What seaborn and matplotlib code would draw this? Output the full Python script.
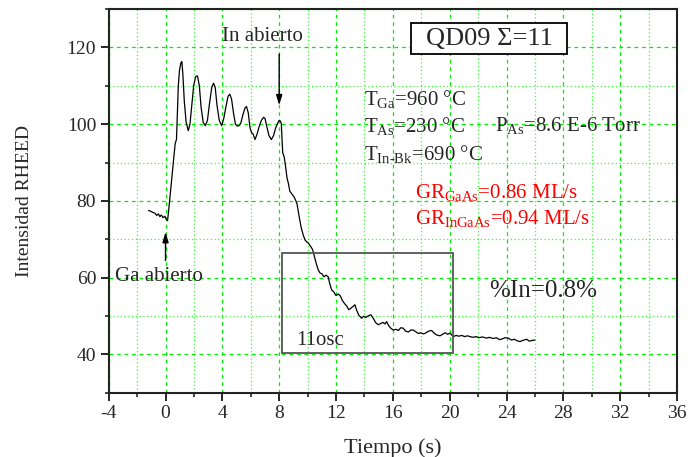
import numpy as np
import pandas as pd
import seaborn as sns
import matplotlib as mpl
import matplotlib.pyplot as plt
from matplotlib.patches import Rectangle
from matplotlib.ticker import MultipleLocator

# RHEED trace
tiempo = [-1.2, -1.05, -0.9, -0.75, -0.62, -0.5, -0.4, -0.3, -0.17, -0.05, 0.05, 0.14,
          0.22, 0.3, 0.4, 0.5, 0.6, 0.68, 0.77, 0.84, 0.9, 0.98, 1.08, 1.15, 1.22, 1.32,
          1.45, 1.6, 1.72, 1.85, 1.98, 2.12, 2.25, 2.38, 2.5, 2.65, 2.8, 2.95, 3.1, 3.25,
          3.38, 3.5, 3.62, 3.78, 3.95, 4.1, 4.25, 4.4, 4.53, 4.65, 4.78, 4.92, 5.05, 5.18,
          5.3, 5.45, 5.6, 5.7, 5.82, 5.95, 6.05, 6.15, 6.3, 6.45, 6.6, 6.75, 6.9, 7.0,
          7.12, 7.28, 7.45, 7.6, 7.75, 7.9, 8.0, 8.08, 8.15, 8.2, 8.25, 8.35, 8.45, 8.55,
          8.65, 8.75, 8.85, 8.95, 9.05, 9.15, 9.25, 9.4, 9.55, 9.7, 9.82, 9.93, 10.05,
          10.2, 10.35, 10.5, 10.62, 10.75, 10.87, 11.0, 11.15, 11.3, 11.45, 11.55, 11.69,
          11.85, 12.0, 12.16, 12.3, 12.45, 12.6, 12.75, 12.9, 13.05, 13.2, 13.33, 13.45,
          13.6, 13.8, 13.95, 14.1, 14.27, 14.45, 14.6, 14.8, 14.97, 15.15, 15.3, 15.45,
          15.56, 15.7, 15.85, 16.03, 16.2, 16.4, 16.55, 16.73, 16.9, 17.1, 17.25, 17.44,
          17.6, 17.8, 17.95, 18.14, 18.3, 18.5, 18.73, 18.9, 19.1, 19.32, 19.5, 19.7,
          19.85, 20.02, 20.15, 20.25, 20.45, 20.65, 20.85, 21.05, 21.25, 21.43, 21.65,
          21.85, 22.05, 22.3, 22.6, 22.8, 23.05, 23.3, 23.5, 23.7, 23.9, 24.13, 24.35,
          24.55, 24.75, 24.95, 25.15, 25.42, 25.6, 25.8, 26.0]
intensidad = [77.5, 77.3, 77.0, 76.8, 76.2, 76.6, 75.9, 76.3, 75.6, 76.0, 75.2, 74.8,
              77.5, 80.5, 84.0, 88.0, 92.0, 95.0, 96.0, 104.0, 110.0, 114.0, 116.0, 116.3,
              113.0, 106.0, 100.5, 98.3, 100.0, 105.0, 110.0, 112.4, 112.6, 110.0, 104.5,
              100.5, 99.6, 101.0, 105.5, 109.5, 110.7, 109.5, 105.0, 101.0, 99.6, 101.5,
              104.5, 107.3, 107.8, 106.5, 103.0, 100.0, 99.5, 99.6, 100.3, 102.5, 104.3,
              104.6, 103.0, 99.0, 97.8, 97.5, 96.0, 97.5, 99.5, 101.0, 101.8, 101.5, 99.5,
              97.0, 96.0, 97.0, 99.0, 100.3, 101.0, 100.8, 100.2, 96.0, 92.5, 91.5, 89.0,
              86.0, 84.5, 82.5, 82.0, 81.5, 81.0, 80.2, 79.3, 76.0, 73.0, 71.0, 69.8, 69.3,
              69.0, 68.2, 67.3, 65.2, 63.5, 62.0, 61.2, 61.0, 60.2, 60.6, 60.2, 58.5, 56.8,
              56.2, 55.3, 55.7, 55.2, 54.0, 53.2, 52.6, 51.6, 52.0, 52.5, 52.9, 51.5, 50.2,
              49.4, 49.9, 49.6, 50.0, 50.3, 49.5, 48.2, 47.7, 48.0, 48.3, 47.9, 48.5, 47.5,
              46.8, 46.3, 46.5, 46.2, 46.9, 46.8, 46.0, 45.8, 46.3, 46.3, 45.9, 45.4, 45.6,
              45.3, 45.5, 46.0, 46.2, 45.5, 45.0, 44.8, 45.2, 45.6, 45.2, 45.5, 45.0, 44.6,
              44.9, 44.7, 44.9, 44.6, 44.8, 44.6, 44.4, 44.6, 44.3, 44.5, 44.2, 44.4, 44.1,
              44.3, 43.8, 44.0, 44.3, 44.2, 43.7, 43.9, 43.5, 43.3, 43.6, 43.9, 43.4, 43.6,
              43.7]

xticks = [-4, 0, 4, 8, 12, 16, 20, 24, 28, 32, 36]
yticks = [40, 60, 80, 100, 120]

sns.set_style("ticks")
plt.rcParams['font.family'] = ['Liberation Serif', 'DejaVu Serif']
plt.rcParams['mathtext.fontset'] = 'custom'
plt.rcParams['mathtext.rm'] = 'Liberation Serif'
plt.rcParams['mathtext.it'] = 'Liberation Serif:italic'
plt.rcParams['axes.unicode_minus'] = False

fig = plt.figure(figsize=(6.88, 4.57), dpi=100)
ax = fig.add_axes([0.158, 0.141, 0.826, 0.839])

df = pd.DataFrame({'t': tiempo, 'I': intensidad})
sns.lineplot(data=df, x='t', y='I', sort=False, estimator=None, color='black', lw=0.9, ax=ax)

ax.set_xlim(-4, 36)
ax.set_ylim(30, 130)
ax.set_xticks(xticks)
ax.set_yticks(yticks)
ax.xaxis.set_minor_locator(MultipleLocator(2))
ax.yaxis.set_minor_locator(MultipleLocator(10))
ax.grid(which='major', color='#00ee00', ls=(0, (3, 3)), lw=0.9)
ax.grid(which='minor', color='#33ff33', ls=(0, (1, 2)), lw=0.9)
ax.set_axisbelow(True)
for s in ax.spines.values():
    s.set_linewidth(1.5)
    s.set_color('#222222')
ax.tick_params(which='major', direction='out', length=6, width=1.4, labelsize=14, pad=3)
ax.tick_params(which='minor', direction='out', length=3, width=1.2)
ax.set_xlabel('Tiempo (s)', fontsize=16, labelpad=12)
ax.set_ylabel('Intensidad RHEED', fontsize=14, labelpad=24)

# annotations
ax.annotate('', xy=(0, 72.6), xytext=(0, 63.7),
            arrowprops=dict(arrowstyle='-|>,head_width=0.18,head_length=0.6', color='black', lw=1))
ax.text(-3.55, 60.2, 'Ga abierto', fontsize=15, va='center', ha='left')
ax.annotate('', xy=(8, 104.2), xytext=(8, 119),
            arrowprops=dict(arrowstyle='-|>,head_width=0.18,head_length=0.6', color='black', lw=1))
ax.text(3.95, 122.8, 'In abierto', fontsize=15, va='center', ha='left')

ax.add_patch(Rectangle((17.3, 118.4), 10.95, 8.0, facecolor='white', edgecolor='black', lw=1.3, zorder=3))
ax.text(22.8, 122.3, 'QD09 Σ=11', fontsize=19, va='center', ha='center', zorder=4)

ax.text(14.0, 106.6, r'T$_{\mathrm{Ga}}$=960 °C', fontsize=15, va='center')
ax.text(14.0, 99.6, r'T$_{\mathrm{As}}$=230 °C', fontsize=15, va='center')
ax.text(23.2, 99.6, r'P$_{\mathrm{As}}$=8.6 E-6 Torr', fontsize=15, va='center')
ax.text(14.0, 92.3, r'T$_{\mathrm{In\text{-}Bk}}$=690 °C', fontsize=15, va='center')
ax.text(17.55, 82.1, r'GR$_{\mathrm{GaAs}}$=0.86 ML/s', fontsize=15, va='center', color='red')
ax.text(17.55, 75.5, r'GR$_{\mathrm{InGaAs}}$=0.94 ML/s', fontsize=15, va='center', color='red')
ax.text(22.8, 56.5, '%In=0.8%', fontsize=18, va='center')

ax.add_patch(Rectangle((8.2, 40.2), 12.0, 26.3, fill=False, edgecolor='#555555', lw=1.3, zorder=3))
ax.text(9.2, 43.6, '11osc', fontsize=15, va='center')

fig.savefig('out.png', dpi=100)
